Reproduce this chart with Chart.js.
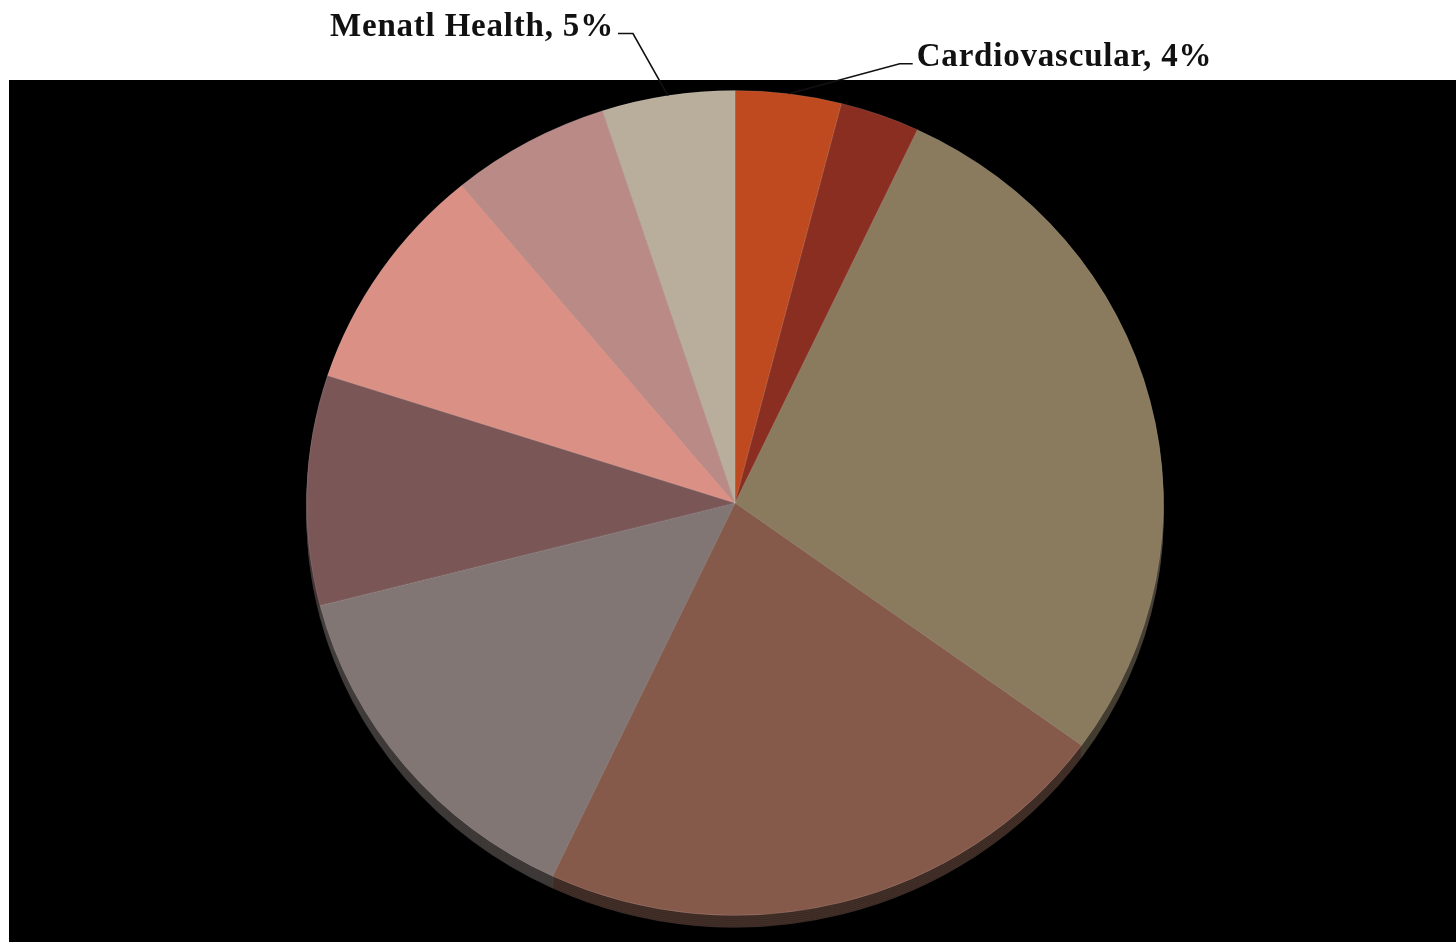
<!DOCTYPE html>
<html><head><meta charset="utf-8">
<script src="https://cdn.jsdelivr.net/npm/chart.js@4/dist/chart.umd.min.js"></script>
<style>html,body{margin:0;padding:0;background:#fff;overflow:hidden;} canvas{display:block;}</style>
</head><body>
<canvas id="c" width="1456" height="942"></canvas>
<script>
// ---- data ----
const categories = ['Cardiovascular', 'Category 2', 'Category 3', 'Category 4', 'Category 5', 'Category 6', 'Category 7', 'Category 8', 'Menatl Health'];
const values = [4, 3, 28, 22, 14, 9, 9, 6, 5];
const colors = ['#C04A1F', '#8A2E21', '#8B7B5E', '#865A4B', '#817673', '#7B5657', '#DB9085', '#B98A86', '#B9AD9B'];
const labelledIndices = [0, 8];

// ---- layout / style ----
const SCALE_Y = 413 / 429;      // slight perspective tilt of the pie face
const SIDE_DEPTH = 12;          // thickness of the 3D edge
const labelLayout = {
  0: { dx: 111, dy: -30, side: 'right' },
  8: { dx: -35, dy: -62, side: 'left' }
};

function ellipseTransform(ctx, chart) {
  const a = chart.chartArea;
  const cx = (a.left + a.right) / 2, cy = (a.top + a.bottom) / 2;
  ctx.translate(cx, cy);
  ctx.scale(1, SCALE_Y);
  ctx.translate(-cx, -cy);
}

const pie3d = {
  id: 'pie3d',
  beforeDraw(chart) {
    const ctx = chart.ctx;
    ctx.save();
    ctx.fillStyle = '#fff';
    ctx.fillRect(0, 0, chart.width, chart.height);
    ctx.fillStyle = '#000';
    ctx.fillRect(9, 80, chart.width - 9, chart.height - 80);
    ctx.restore();
  },
  beforeDatasetsDraw(chart) {
    const ctx = chart.ctx;
    const meta = chart.getDatasetMeta(0);
    ctx.save();
    ctx.filter = 'brightness(0.45)';
    for (let d = SIDE_DEPTH; d >= 2; d -= 2) {
      ctx.save();
      ctx.translate(0, d);
      ellipseTransform(ctx, chart);
      meta.data.forEach(el => el.draw(ctx));
      ctx.restore();
    }
    ctx.restore();
    ctx.save();
    ellipseTransform(ctx, chart);
  },
  afterDatasetsDraw(chart) {
    chart.ctx.restore();
  },
  afterDraw(chart) {
    const ctx = chart.ctx;
    const meta = chart.getDatasetMeta(0);
    ctx.save();
    ctx.font = 'bold 33px "Liberation Serif", serif';
    try { ctx.letterSpacing = '0.8px'; } catch (e) {}
    ctx.fillStyle = '#111';
    ctx.strokeStyle = '#111';
    ctx.lineWidth = 1.6;
    labelledIndices.forEach(i => {
      const el = meta.data[i];
      const p = el.getProps(['x', 'y', 'startAngle', 'endAngle', 'outerRadius'], true);
      const mid = (p.startAngle + p.endAngle) / 2;
      const px = p.x + Math.cos(mid) * p.outerRadius;
      const py = p.y + Math.sin(mid) * p.outerRadius * SCALE_Y;
      const L = labelLayout[i];
      const ex = px + L.dx, ey = py + L.dy;
      const hx = L.side === 'right' ? ex + 13 : ex - 15;
      ctx.beginPath();
      ctx.moveTo(px, py);
      ctx.lineTo(ex, ey);
      ctx.lineTo(hx, ey);
      ctx.stroke();
      const pct = Math.round(values[i] / values.reduce((a, b) => a + b, 0) * 100);
      const text = categories[i] + ', ' + pct + '%';
      ctx.textBaseline = 'alphabetic';
      if (L.side === 'right') {
        ctx.textAlign = 'left';
        ctx.fillText(text, hx + 4, ey + 2);
      } else {
        ctx.textAlign = 'right';
        ctx.fillText(text, hx - 4, ey + 2);
      }
    });
    ctx.restore();
  }
};

new Chart(document.getElementById('c'), {
  type: 'pie',
  data: {
    labels: categories,
    datasets: [{
      data: values,
      backgroundColor: colors,
      borderColor: 'rgba(255,255,255,0.12)',
      borderWidth: 1
    }]
  },
  options: {
    responsive: false,
    animation: false,
    layout: { padding: { left: 306, right: 292, top: 74, bottom: 10 } },
    plugins: { legend: { display: false }, tooltip: { enabled: false } }
  },
  plugins: [pie3d]
});
</script>
</body></html>
